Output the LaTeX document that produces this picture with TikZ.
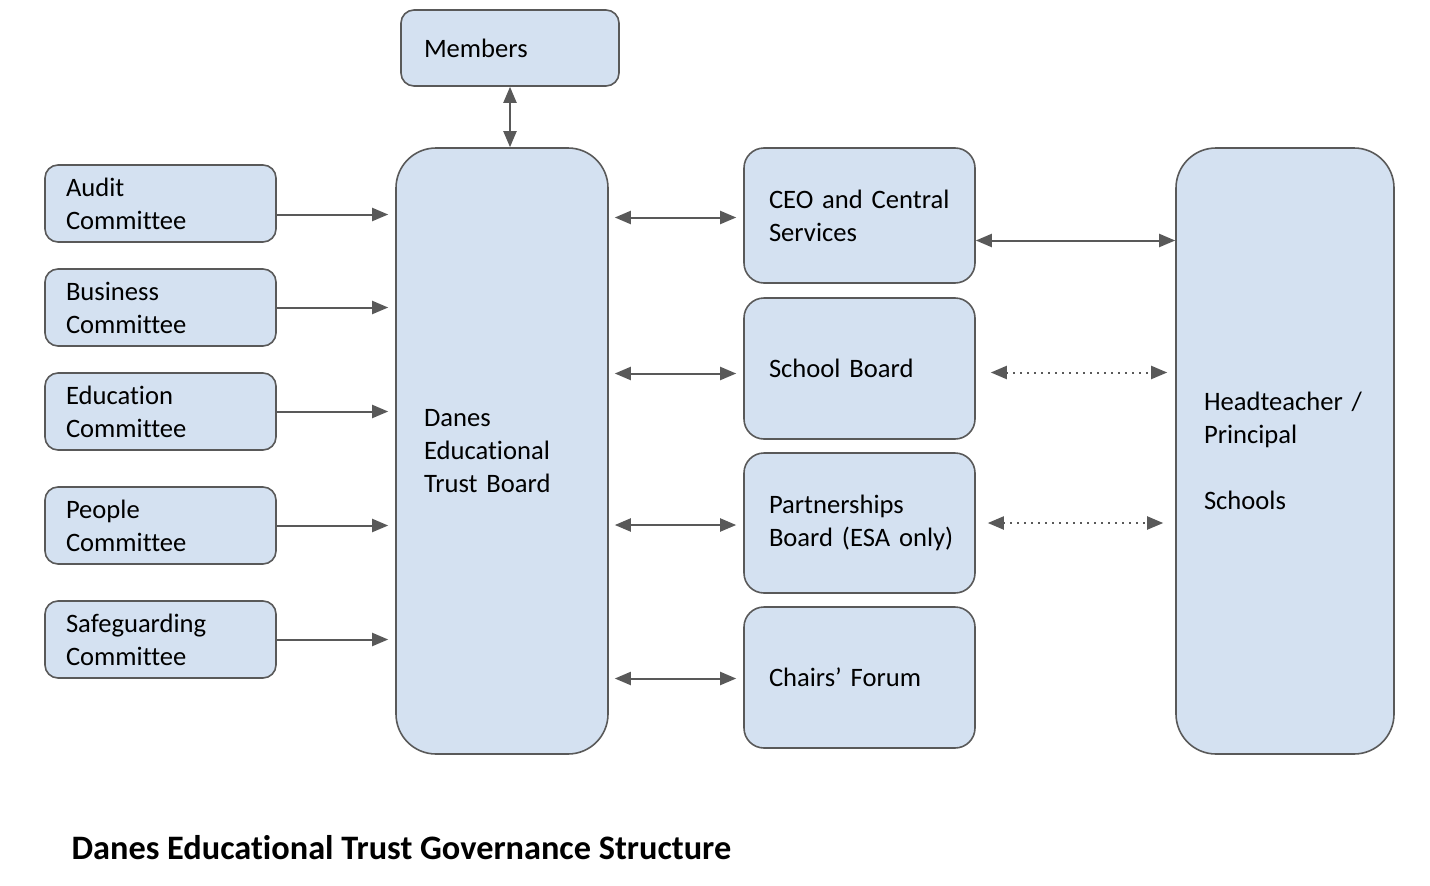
\documentclass[tikz,border=0pt]{standalone}
\usepackage{fontspec}
\setmainfont{Carlito}[Ligatures={NoCommon}]
\usetikzlibrary{arrows.meta}
\definecolor{boxblue}{HTML}{D4E1F1}
\definecolor{edgegray}{HTML}{595959}

\begin{document}
\begin{tikzpicture}[x=1pt, y=-1pt,
	every node/.style={font=\fontsize{26.6}{33}\selectfont},
	unit/.style={draw=edgegray, fill=boxblue, line width=1.6pt, align=left, inner xsep=0pt, inner ysep=0pt},
	committee/.style={unit, rounded corners=13pt, minimum width=231pt, minimum height=77pt, text width=189pt},
	forum/.style={unit, rounded corners=20pt, minimum width=231pt, text width=181pt},
	column/.style={unit, rounded corners=40pt, minimum height=606pt},
	link/.style={draw=edgegray, line width=2pt, {Triangle[length=16pt,width=13pt]}-{Triangle[length=16pt,width=13pt]}},
	feed/.style={draw=edgegray, line width=2pt, -{Triangle[length=16pt,width=13pt]}},
	loose/.style={link, dash pattern=on 2pt off 5pt}]
	\useasboundingbox (0,0) rectangle (1430,886);

	% trust level
	\node[unit, rounded corners=13pt, minimum width=218pt, minimum height=76pt, text width=172pt] (members) at (510,48) {Members};
	\node[column, minimum width=212pt, text width=156pt] (board) at (502,451) {Danes\\Educational\\Trust Board};
	\node[column, minimum width=218pt, text width=162pt] (head) at (1285,451) {Headteacher /\\Principal\\[33pt]Schools};

	% committees
	\foreach \nm/\y/\txt in {audit/203.5/{Audit\\Committee}, business/307.5/{Business\\Committee}, education/411.5/{Education\\Committee}, people/525.5/{People\\Committee}, safeguarding/639.5/{Safeguarding\\Committee}}
		\node[committee] (\nm) at (160.5,\y) {\txt};

	% boards and forums
	\node[forum, minimum height=135pt] (ceo) at (859.5,215.5) {CEO and Central\\Services};
	\node[forum, minimum height=141pt] (school) at (859.5,368.5) {School Board};
	\node[forum, minimum height=140pt] (partners) at (859.5,523) {Partnerships\\\mbox{Board (ESA only)}};
	\node[forum, minimum height=141pt] (chairs) at (859.5,677.5) {Chairs’ Forum};

	\node[anchor=west, font=\bfseries\fontsize{34.3}{40}\selectfont] (title) at (68,848) {Danes Educational Trust Governance Structure};

	% connectors
	\draw[link] (members.south) -- (members.south |- board.north);
	\coordinate (auditout) at ([yshift=-11pt]audit.east);
	\draw[feed, shorten >=7pt] (auditout) -- (auditout -| board.west);
	\foreach \nm in {business,education,people,safeguarding}
		\draw[feed, shorten >=7pt] (\nm.east) -- (\nm.east -| board.west);
	\foreach \nm/\dy in {ceo/-2,school/-5,partners/-2,chairs/-1}
		\draw[link, shorten <=6pt, shorten >=7pt] ([yshift=\dy pt]\nm.west -| board.east) -- ([yshift=\dy pt]\nm.west);
	\coordinate (ceoout) at ([yshift=-25pt]ceo.east);
	\draw[link] (ceoout) -- (ceoout -| head.west);
	\coordinate (schoolout) at ([yshift=-4pt]school.east);
	\draw[loose, shorten <=15pt, shorten >=8pt] (schoolout) -- (schoolout -| head.west);
	\draw[loose, shorten <=12pt, shorten >=12pt] (partners.east) -- (partners.east -| head.west);
\end{tikzpicture}
\end{document}
